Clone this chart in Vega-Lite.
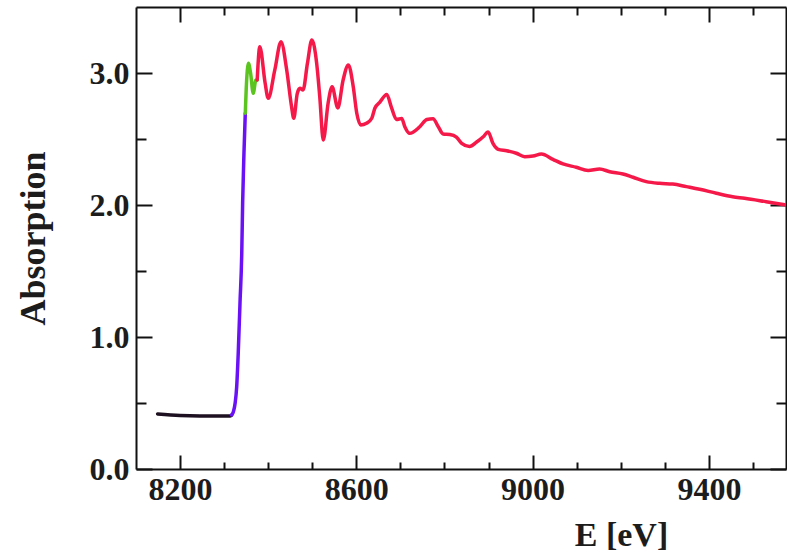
{
  "$schema": "https://vega.github.io/schema/vega-lite/v6.json",
  "width": 650,
  "height": 462,
  "autosize": {"type": "none"},
  "padding": {"left": 136, "top": 7, "right": 1, "bottom": 89},
  "background": "white",
  "config": {"view": {"stroke": null}, "axis": {"grid": false}},
  "datasets": {
    "spectrum": [
      {"E": 8149, "A": 0.417, "seg": "pre"},
      {"E": 8200, "A": 0.405, "seg": "pre"},
      {"E": 8245, "A": 0.402, "seg": "pre"},
      {"E": 8313, "A": 0.402, "seg": "pre"},
      {"E": 8317, "A": 0.409, "seg": "pre"},
      {"E": 8317, "A": 0.409, "seg": "edge"},
      {"E": 8321, "A": 0.434, "seg": "edge"},
      {"E": 8325, "A": 0.500, "seg": "edge"},
      {"E": 8328.5, "A": 0.623, "seg": "edge"},
      {"E": 8332, "A": 0.879, "seg": "edge"},
      {"E": 8336, "A": 1.258, "seg": "edge"},
      {"E": 8340, "A": 1.636, "seg": "edge"},
      {"E": 8342, "A": 2.015, "seg": "edge"},
      {"E": 8345, "A": 2.394, "seg": "edge"},
      {"E": 8348, "A": 2.695, "seg": "edge"},
      {"E": 8348, "A": 2.695, "seg": "white"},
      {"E": 8350, "A": 2.871, "seg": "white"},
      {"E": 8355, "A": 3.073, "seg": "white"},
      {"E": 8360, "A": 3.000, "seg": "white"},
      {"E": 8366, "A": 2.846, "seg": "white"},
      {"E": 8372, "A": 2.947, "seg": "white"},
      {"E": 8375, "A": 2.947, "seg": "white"},
      {"E": 8375, "A": 2.947, "seg": "exafs"},
      {"E": 8381, "A": 3.199, "seg": "exafs"},
      {"E": 8393, "A": 2.924, "seg": "exafs"},
      {"E": 8400, "A": 2.808, "seg": "exafs"},
      {"E": 8415, "A": 3.023, "seg": "exafs"},
      {"E": 8429, "A": 3.237, "seg": "exafs"},
      {"E": 8442, "A": 3.023, "seg": "exafs"},
      {"E": 8453, "A": 2.745, "seg": "exafs"},
      {"E": 8458, "A": 2.657, "seg": "exafs"},
      {"E": 8466, "A": 2.846, "seg": "exafs"},
      {"E": 8472, "A": 2.884, "seg": "exafs"},
      {"E": 8479, "A": 2.871, "seg": "exafs"},
      {"E": 8489, "A": 3.073, "seg": "exafs"},
      {"E": 8499, "A": 3.250, "seg": "exafs"},
      {"E": 8510, "A": 3.073, "seg": "exafs"},
      {"E": 8517, "A": 2.820, "seg": "exafs"},
      {"E": 8525, "A": 2.492, "seg": "exafs"},
      {"E": 8536, "A": 2.773, "seg": "exafs"},
      {"E": 8545, "A": 2.896, "seg": "exafs"},
      {"E": 8558, "A": 2.735, "seg": "exafs"},
      {"E": 8570, "A": 2.947, "seg": "exafs"},
      {"E": 8582, "A": 3.061, "seg": "exafs"},
      {"E": 8593, "A": 2.896, "seg": "exafs"},
      {"E": 8601, "A": 2.695, "seg": "exafs"},
      {"E": 8610, "A": 2.606, "seg": "exafs"},
      {"E": 8623, "A": 2.619, "seg": "exafs"},
      {"E": 8635, "A": 2.657, "seg": "exafs"},
      {"E": 8642, "A": 2.733, "seg": "exafs"},
      {"E": 8653, "A": 2.777, "seg": "exafs"},
      {"E": 8669, "A": 2.837, "seg": "exafs"},
      {"E": 8680, "A": 2.735, "seg": "exafs"},
      {"E": 8691, "A": 2.648, "seg": "exafs"},
      {"E": 8703, "A": 2.655, "seg": "exafs"},
      {"E": 8710, "A": 2.593, "seg": "exafs"},
      {"E": 8721, "A": 2.543, "seg": "exafs"},
      {"E": 8744, "A": 2.593, "seg": "exafs"},
      {"E": 8760, "A": 2.648, "seg": "exafs"},
      {"E": 8774, "A": 2.654, "seg": "exafs"},
      {"E": 8786, "A": 2.593, "seg": "exafs"},
      {"E": 8797, "A": 2.538, "seg": "exafs"},
      {"E": 8812, "A": 2.534, "seg": "exafs"},
      {"E": 8827, "A": 2.515, "seg": "exafs"},
      {"E": 8839, "A": 2.467, "seg": "exafs"},
      {"E": 8857, "A": 2.443, "seg": "exafs"},
      {"E": 8873, "A": 2.477, "seg": "exafs"},
      {"E": 8888, "A": 2.517, "seg": "exafs"},
      {"E": 8899, "A": 2.553, "seg": "exafs"},
      {"E": 8910, "A": 2.467, "seg": "exafs"},
      {"E": 8922, "A": 2.422, "seg": "exafs"},
      {"E": 8941, "A": 2.411, "seg": "exafs"},
      {"E": 8963, "A": 2.392, "seg": "exafs"},
      {"E": 8982, "A": 2.366, "seg": "exafs"},
      {"E": 9001, "A": 2.371, "seg": "exafs"},
      {"E": 9020, "A": 2.386, "seg": "exafs"},
      {"E": 9046, "A": 2.346, "seg": "exafs"},
      {"E": 9069, "A": 2.311, "seg": "exafs"},
      {"E": 9099, "A": 2.286, "seg": "exafs"},
      {"E": 9126, "A": 2.261, "seg": "exafs"},
      {"E": 9152, "A": 2.273, "seg": "exafs"},
      {"E": 9175, "A": 2.252, "seg": "exafs"},
      {"E": 9205, "A": 2.235, "seg": "exafs"},
      {"E": 9228, "A": 2.210, "seg": "exafs"},
      {"E": 9258, "A": 2.177, "seg": "exafs"},
      {"E": 9288, "A": 2.164, "seg": "exafs"},
      {"E": 9318, "A": 2.159, "seg": "exafs"},
      {"E": 9349, "A": 2.139, "seg": "exafs"},
      {"E": 9379, "A": 2.119, "seg": "exafs"},
      {"E": 9417, "A": 2.089, "seg": "exafs"},
      {"E": 9454, "A": 2.063, "seg": "exafs"},
      {"E": 9481, "A": 2.051, "seg": "exafs"},
      {"E": 9530, "A": 2.025, "seg": "exafs"},
      {"E": 9576, "A": 2.000, "seg": "exafs"}
    ],
    "anchor": [{"E": 8100, "A": 0}]
  },
  "resolve": {"scale": {"x": "shared", "y": "shared"}, "axis": {"x": "independent", "y": "independent"}},
  "layer": [
    {
      "data": {"name": "spectrum"},
      "mark": {"type": "line", "strokeWidth": 3.5, "strokeJoin": "round", "strokeCap": "round", "interpolate": "monotone", "clip": true},
      "encoding": {
        "x": {
          "field": "E", "type": "quantitative",
          "scale": {"domain": [8100, 9575], "nice": false, "zero": false},
          "axis": {
            "orient": "bottom",
            "values": [8200, 8300, 8400, 8500, 8600, 8700, 8800, 8900, 9000, 9100, 9200, 9300, 9400, 9500],
            "format": "d",
            "labelExpr": "(datum.value - 8200) % 400 === 0 ? datum.label : ''",
            "tickSize": {"condition": {"test": "(datum.value - 8200) % 400 === 0", "value": -14}, "value": -7},
            "tickWidth": 2, "tickColor": "#111",
            "domainColor": "#111", "domainWidth": 2,
            "labelFont": "Liberation Serif", "labelFontSize": 32, "labelFontWeight": "bold", "labelColor": "#1c1c1c",
            "labelPadding": 19, "labelFlush": false, "labelOverlap": false,
            "title": "E [eV]", "titleFont": "Liberation Serif", "titleFontSize": 34, "titleFontWeight": "bold", "titleColor": "#1c1c1c",
            "titleAnchor": "start", "titleX": 485, "titleY": 76, "titleAlign": "center", "titleBaseline": "alphabetic"
          }
        },
        "y": {
          "field": "A", "type": "quantitative",
          "scale": {"domain": [0, 3.5], "nice": false, "zero": false},
          "axis": {
            "orient": "left",
            "values": [0, 0.5, 1, 1.5, 2, 2.5, 3],
            "format": ".1f",
            "labelExpr": "datum.value % 1 === 0 ? datum.label : ''",
            "tickSize": {"condition": {"test": "datum.value % 1 === 0", "value": -16}, "value": -10},
            "tickWidth": 2, "tickColor": "#111",
            "domainColor": "#111", "domainWidth": 2,
            "labelFont": "Liberation Serif", "labelFontSize": 32, "labelFontWeight": "bold", "labelColor": "#1c1c1c",
            "labelPadding": 23, "labelFlush": false, "labelOverlap": false,
            "title": "Absorption", "titleFont": "Liberation Serif", "titleFontSize": 36, "titleFontWeight": "bold", "titleColor": "#1c1c1c",
            "titleAnchor": "start", "titleAngle": -90, "titleX": -92, "titleY": 231, "titleAlign": "center", "titleBaseline": "alphabetic"
          }
        },
        "color": {
          "field": "seg", "type": "nominal",
          "scale": {"domain": ["pre", "edge", "white", "exafs"], "range": ["#1d1020", "#6a12f5", "#5cc41e", "#f5194a"]},
          "legend": null
        },
        "order": {"field": "E", "type": "quantitative"}
      }
    },
    {
      "data": {"name": "anchor"},
      "mark": {"type": "point", "opacity": 0},
      "encoding": {
        "x": {"field": "E", "type": "quantitative", "axis": {
          "orient": "top",
          "values": [8200, 8300, 8400, 8500, 8600, 8700, 8800, 8900, 9000, 9100, 9200, 9300, 9400, 9500],
          "tickSize": {"condition": {"test": "(datum.value - 8200) % 400 === 0", "value": -15}, "value": -8},
          "tickWidth": 2, "tickColor": "#111", "domainColor": "#111", "domainWidth": 2, "labels": false, "title": null}},
        "y": {"field": "A", "type": "quantitative", "axis": {
          "orient": "right",
          "values": [0, 0.5, 1, 1.5, 2, 2.5, 3],
          "tickSize": {"condition": {"test": "datum.value % 1 === 0", "value": -16}, "value": -10},
          "tickWidth": 2, "tickColor": "#111", "domainColor": "#111", "domainWidth": 2, "labels": false, "title": null}}
      }
    }
  ]
}
